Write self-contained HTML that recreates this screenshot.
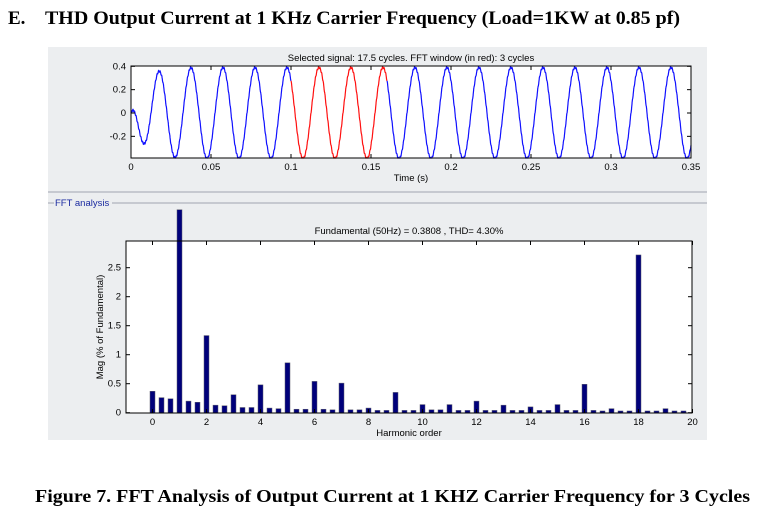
<!DOCTYPE html>
<html><head><meta charset="utf-8"><style>
body{margin:0;background:#fff;width:760px;height:519px;overflow:hidden;position:relative;font-family:"Liberation Sans",sans-serif}
</style></head><body>
<svg id="s" width="760" height="519" style="position:absolute;left:0;top:0" font-family="Liberation Sans, sans-serif" font-size="9.5">
<text x="8" y="24" font-family="Liberation Serif, serif" font-weight="bold" font-size="19">E.</text>
<text x="45" y="24" font-family="Liberation Serif, serif" font-weight="bold" font-size="19" textLength="635" lengthAdjust="spacingAndGlyphs">THD Output Current at 1 KHz Carrier Frequency (Load=1KW at 0.85 pf)</text>
<text x="35" y="502" font-family="Liberation Serif, serif" font-weight="bold" font-size="17.5" textLength="715" lengthAdjust="spacingAndGlyphs">Figure 7. FFT Analysis of Output Current at 1 KHZ Carrier Frequency for 3 Cycles</text>
<rect x="48" y="47" width="659" height="393" fill="#eceef0"/>
<line x1="48" y1="192" x2="707" y2="192" stroke="#a0a4b0"/>
<line x1="48" y1="203" x2="707" y2="203" stroke="#a0a4b0"/>
<rect x="54" y="197" width="58" height="11" fill="#eceef0"/>
<text x="55" y="206" fill="#1a2aa0">FFT analysis</text>
<rect x="131" y="66" width="560" height="92" fill="#fff"/>
<rect x="126" y="241" width="566" height="172" fill="#fff"/>
<g id="g"></g>
<rect x="131" y="66" width="560" height="92" fill="none" stroke="#000"/>
<rect x="126" y="241" width="566" height="172" fill="none" stroke="#000"/>
<text x="411" y="61" text-anchor="middle">Selected signal: 17.5 cycles. FFT window (in red): 3 cycles</text>
<text x="411" y="181" text-anchor="middle">Time (s)</text>
<text x="409" y="234" text-anchor="middle">Fundamental (50Hz) = 0.3808 , THD= 4.30%</text>
<text x="409" y="436" text-anchor="middle">Harmonic order</text>
<text transform="translate(103,327) rotate(-90)" text-anchor="middle">Mag (% of Fundamental)</text>
</svg>
<script>
var g=document.getElementById('g'),h='';
function X(t){return 131+t*1600}function Y(v){return 113-v*116.7}
var pb='',pr='',pc='',w=2*Math.PI*50;
for(var i=0;i<=3500;i++){var t=i*0.0001;var v=0.39*Math.sin(w*t+2.356)*(1-Math.exp(-t/0.007))+0.008*Math.sin(w*20*t);
 v=Math.max(-0.386,Math.min(0.4,v));var p=X(t).toFixed(1)+','+Y(v).toFixed(1)+' ';
 if(t<=0.1+1e-9)pb+=p; if(t>=0.1-1e-9&&t<=0.16+1e-9)pr+=p; if(t>=0.16-1e-9)pc+=p;}
h+='<polyline points="'+pb+'" fill="none" stroke="#1010ff" stroke-width="1.2"/>';
h+='<polyline points="'+pr+'" fill="none" stroke="#ff1010" stroke-width="1.2"/>';
h+='<polyline points="'+pc+'" fill="none" stroke="#1010ff" stroke-width="1.2"/>';
[0,0.05,0.1,0.15,0.2,0.25,0.3,0.35].forEach(function(t){var x=X(t);h+='<line x1="'+x+'" y1="158" x2="'+x+'" y2="154" stroke="#000"/><line x1="'+x+'" y1="66" x2="'+x+'" y2="70" stroke="#000"/><text x="'+x+'" y="170" text-anchor="middle">'+t+'</text>';});
[0.4,0.2,0,-0.2].forEach(function(v){var y=Y(v);h+='<line x1="131" y1="'+y+'" x2="135" y2="'+y+'" stroke="#000"/><line x1="691" y1="'+y+'" x2="687" y2="'+y+'" stroke="#000"/><text x="126" y="'+(y+3)+'" text-anchor="end">'+v+'</text>';});
function BX(k){return 152.5+k*27}function BY(v){return 412.7-v*58}
var m=[0.37,0.26,0.24,3.5,0.20,0.18,1.33,0.13,0.12,0.31,0.09,0.09,0.48,0.08,0.07,0.86,0.06,0.06,0.54,0.06,0.05,0.51,0.05,0.05,0.08,0.04,0.04,0.35,0.04,0.04,0.14,0.05,0.05,0.14,0.04,0.04,0.2,0.04,0.04,0.13,0.04,0.04,0.1,0.04,0.04,0.14,0.04,0.04,0.49,0.04,0.03,0.07,0.03,0.03,2.72,0.03,0.03,0.07,0.03,0.03];
m.forEach(function(v,i){var x=BX(i/3)-2.5,y=BY(v);h+='<rect x="'+x+'" y="'+y+'" width="5" height="'+(412.7-y)+'" fill="#00007a" stroke="#606070" stroke-width="0.5"/>';});
for(var k=0;k<=20;k+=2){var x=BX(k);h+='<line x1="'+x+'" y1="413" x2="'+x+'" y2="409" stroke="#000"/><line x1="'+x+'" y1="241" x2="'+x+'" y2="245" stroke="#000"/><text x="'+x+'" y="425" text-anchor="middle">'+k+'</text>';}
[0,0.5,1,1.5,2,2.5].forEach(function(v){var y=BY(v);h+='<line x1="126" y1="'+y+'" x2="130" y2="'+y+'" stroke="#000"/><line x1="692" y1="'+y+'" x2="688" y2="'+y+'" stroke="#000"/><text x="121" y="'+(y+3)+'" text-anchor="end">'+v+'</text>';});
g.innerHTML=h;
</script>
</body></html>
